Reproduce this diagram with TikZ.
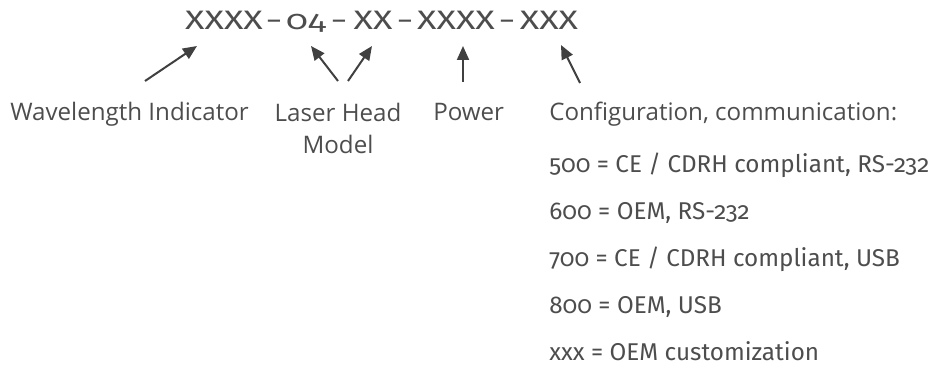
\documentclass[tikz,border=0pt]{standalone}
\usepackage{fontspec}
\setmainfont{Fira Sans}[Numbers=OldStyle]
\newfontfamily\labelfont{Open Sans}
\newfontfamily\codefont{Fira Sans}[Numbers=OldStyle, FakeStretch=1.35]
\newfontfamily\dashfont{Fira Sans}
\usetikzlibrary{arrows.meta,positioning}
\definecolor{textgrey}{RGB}{77,77,77}
\definecolor{arrowgrey}{RGB}{64,64,64}

\begin{document}
\begin{tikzpicture}[
  x=0.75pt, y=-0.75pt,
  code/.style={anchor=base, inner sep=0pt, text=textgrey, font=\codefont\fontsize{20}{24}\selectfont},
  sep/.style={anchor=base, inner sep=0pt, text=textgrey, font=\dashfont\fontsize{20}{24}\selectfont},
  lbl/.style={inner sep=0pt, text=textgrey, font=\labelfont\fontsize{18.1}{24}\selectfont},
  opt/.style={anchor=base west, inner sep=0pt, text=textgrey, font=\fontsize{18.2}{23}\selectfont},
  pointer/.style={arrowgrey, line width=1.5pt, -{Triangle[length=10.5pt, width=9pt]}}
]
\useasboundingbox (0,0) rectangle (941,367);

% part number
\node[code] (cwave) at (224,29.3) {XXXX};
\node[sep] (d1) at (274,29.3) {–};
\node[code] (chead) at (306,29.3) {04};
\node[sep] (d2) at (339,29.3) {–};
\node[code] (cmodel) at (373,29.3) {XX};
\node[sep] (d3) at (405,29.3) {–};
\node[code] (cpower) at (456,29.3) {XXXX};
\node[sep] (d4) at (507,29.3) {–};
\node[code] (cconf) at (549,29.3) {XXX};

% labels
\node[lbl, anchor=base west] (lwave) at (10,121) {Wavelength Indicator};
\node[lbl, anchor=base, align=center] (lhead) at (338,153) {Laser Head\\Model};
\node[lbl, anchor=base west] (lpower) at (433,121) {Power};
\node[lbl, anchor=base west] (lconf) at (549,121) {Configuration, communication:};

% options
\node[opt] (o500) at (549,172) {500 = CE / CDRH compliant, RS-232};
\node[opt] (o600) at (549,219) {600 = OEM, RS-232};
\node[opt] (o700) at (549,266) {700 = CE / CDRH compliant, USB};
\node[opt] (o800) at (549,313) {800 = OEM, USB};
\node[opt] (oxxx) at (549,360) {xxx = OEM customization};

% arrows
\coordinate (t1) at (145,81);  \coordinate (h1) at (197,46);
\coordinate (t2) at (338,81);  \coordinate (h2) at (311,46);
\coordinate (t3) at (348,81);  \coordinate (h3) at (372,46);
\coordinate (t4) at (463,82);  \coordinate (h4) at (463,46);
\coordinate (t5) at (580,83);  \coordinate (h5) at (561,45);
\draw[pointer] (t1) -- (h1);
\draw[pointer] (t2) -- (h2);
\draw[pointer] (t3) -- (h3);
\draw[pointer] (t4) -- (h4);
\draw[pointer] (t5) -- (h5);
\end{tikzpicture}
\end{document}
